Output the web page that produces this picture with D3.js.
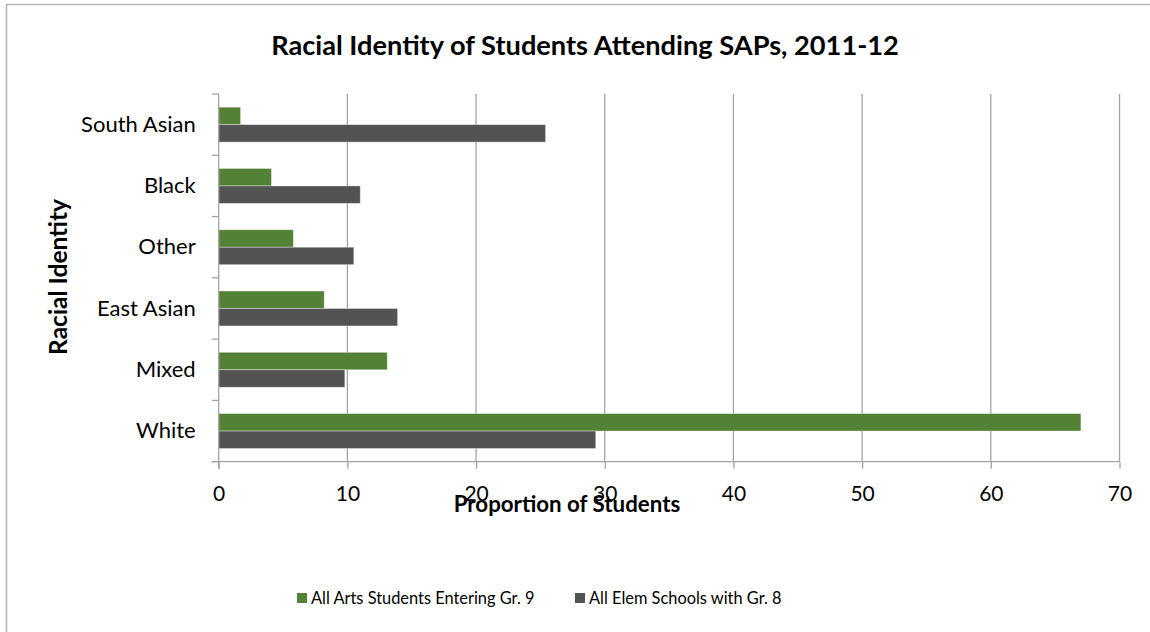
<!DOCTYPE html>
<html>
<head>
<meta charset="utf-8">
<script src="https://cdn.jsdelivr.net/npm/d3@7"></script>
<style>
  html, body { margin: 0; padding: 0; background: #ffffff; }
  svg { display: block; }
  text { font-family: Lato, "Open Sans", sans-serif; fill: #000; }
</style>
</head>
<body>
<svg id="chart" width="1150" height="632"></svg>
<script>
// Racial identity categories, top to bottom
const categories = ["South Asian", "Black", "Other", "East Asian", "Mixed", "White"];
// Series names (legend order)
const seriesNames = ["All Arts Students Entering Gr. 9", "All Elem Schools with Gr. 8"];
// Proportion of students (%) per category
const artsValues = [1.7, 4.1, 5.8, 8.2, 13.1, 67.0];
const elemValues = [25.4, 11.0, 10.5, 13.9, 9.8, 29.3];
// X axis ticks
const xTicks = [0, 10, 20, 30, 40, 50, 60, 70];

const colors = { [seriesNames[0]]: "#538135", [seriesNames[1]]: "#535353" };
const gridColor = "#a3a3a3";

const svg = d3.select("#chart");

// Chart frame
svg.append("rect")
  .attr("x", 6.5).attr("y", 4.5)
  .attr("width", 1200).attr("height", 700)
  .attr("fill", "none")
  .attr("stroke", "#b4b4b4")
  .attr("stroke-width", 1.5);

const plot = { left: 218.7, right: 1119.5, top: 94, bottom: 461.7 };

const x = d3.scaleLinear().domain([0, 70]).range([plot.left, plot.right]);
const y = d3.scaleBand().domain(categories).range([plot.top, plot.bottom]).padding(0);
const ySub = d3.scaleBand().domain(seriesNames).range([0, y.bandwidth()])
  .paddingInner(0).paddingOuter(0.754);

// Vertical gridlines
svg.append("g")
  .selectAll("line")
  .data(xTicks.filter(d => d > 0))
  .join("line")
  .attr("x1", d => x(d)).attr("x2", d => x(d))
  .attr("y1", plot.top).attr("y2", plot.bottom)
  .attr("stroke", gridColor)
  .attr("stroke-width", 1.3);

// Bars
const rows = categories.map((c, i) => ({
  category: c,
  values: [
    { series: seriesNames[0], value: artsValues[i] },
    { series: seriesNames[1], value: elemValues[i] }
  ]
}));

const groups = svg.append("g")
  .selectAll("g")
  .data(rows)
  .join("g")
  .attr("transform", d => `translate(0,${y(d.category)})`);

groups.selectAll("rect")
  .data(d => d.values)
  .join("rect")
  .attr("x", x(0))
  .attr("y", d => ySub(d.series))
  .attr("width", d => x(d.value) - x(0))
  .attr("height", ySub.bandwidth())
  .attr("fill", d => colors[d.series])
  .attr("stroke", "rgba(255,255,255,0.45)")
  .attr("stroke-width", 0.8);

// X axis
const xAxis = d3.axisBottom(x)
  .tickValues(xTicks)
  .tickSize(7)
  .tickSizeOuter(0)
  .tickPadding(17);
const gx = svg.append("g")
  .attr("transform", `translate(0,${plot.bottom})`)
  .call(xAxis);
gx.select(".domain").attr("stroke", gridColor).attr("stroke-width", 1.3)
  .attr("d", `M${plot.left - 7},0H${plot.right}`);
gx.selectAll(".tick line").attr("stroke", gridColor).attr("stroke-width", 1.3);
gx.selectAll(".tick text")
  .attr("font-family", "Lato, 'Open Sans', sans-serif")
  .attr("font-size", 21)
  .attr("fill", "#000");

// Y axis
const yAxis = d3.axisLeft(y)
  .tickSize(0)
  .tickPadding(23);
const gy = svg.append("g")
  .attr("transform", `translate(${plot.left},0)`)
  .call(yAxis);
gy.select(".domain").attr("stroke", gridColor).attr("stroke-width", 1.3)
  .attr("d", `M0,${plot.top}V${plot.bottom + 7}`);
gy.selectAll(".tick text")
  .attr("font-family", "Lato, 'Open Sans', sans-serif")
  .attr("font-size", 22)
  .attr("fill", "#000");

// Category boundary ticks on the y axis
const boundaries = d3.range(categories.length + 1).map(i => plot.top + i * y.step());
svg.append("g")
  .selectAll("line")
  .data(boundaries)
  .join("line")
  .attr("x1", plot.left - 7).attr("x2", plot.left)
  .attr("y1", d => d).attr("y2", d => d)
  .attr("stroke", gridColor)
  .attr("stroke-width", 1.3);

// Title
svg.append("text")
  .attr("x", 585).attr("y", 55)
  .attr("text-anchor", "middle")
  .attr("font-size", 27.2)
  .attr("font-weight", "bold")
  .text("Racial Identity of Students Attending SAPs, 2011-12");

// Axis titles
svg.append("text")
  .attr("x", 567).attr("y", 512)
  .attr("text-anchor", "middle")
  .attr("font-size", 22.3)
  .attr("font-weight", "bold")
  .text("Proportion of Students");

svg.append("text")
  .attr("transform", "translate(67,277) rotate(-90)")
  .attr("text-anchor", "middle")
  .attr("font-size", 24.5)
  .attr("font-weight", "bold")
  .text("Racial Identity");

// Legend
const legendItems = [
  { name: seriesNames[0], x: 297 },
  { name: seriesNames[1], x: 575 }
];
const legend = svg.append("g")
  .selectAll("g")
  .data(legendItems)
  .join("g")
  .attr("transform", d => `translate(${d.x},593)`);
legend.append("rect")
  .attr("width", 10).attr("height", 10)
  .attr("fill", d => colors[d.name]);
legend.append("text")
  .attr("x", 14).attr("y", 11)
  .attr("font-size", 16.4)
  .text(d => d.name);
</script>
</body>
</html>
